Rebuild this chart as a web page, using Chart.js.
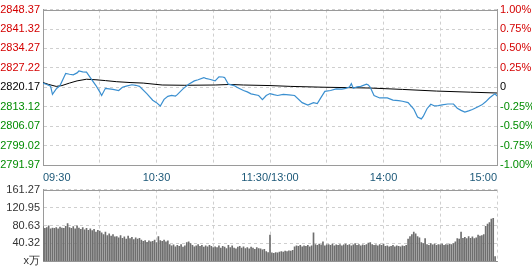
<!DOCTYPE html>
<html>
<head>
<meta charset="utf-8">
<script src="https://cdn.jsdelivr.net/npm/chart.js@4.4.1/dist/chart.umd.min.js"></script>
<style>
    html, body { margin: 0; padding: 0; background: #fff; }
    #wrap { position: relative; width: 532px; height: 271px; overflow: hidden; }
    canvas { position: absolute; left: 0; }
    #priceChart { top: 0; }
    #volChart { top: 180px; }
</style>
</head>
<body>
<div id="wrap">
    <canvas id="priceChart" width="532" height="186"></canvas>
    <canvas id="volChart" width="532" height="91"></canvas>
</div>
<script>
// ==========================================
//  Intraday chart (price / average / volume)
// ==========================================

const prevClose = 2820.17;

// minute index 0..240 (09:30-11:30, 13:00-15:00)
const gridMinutes = [0, 30, 60, 90, 120, 150, 180, 210, 240];
const timeTickMinutes = [0, 60, 120, 180, 240];
const timeTickLabels = ['09:30', '10:30', '11:30/13:00', '14:00', '15:00'];

const priceTicks = [2791.97, 2799.02, 2806.07, 2813.12, 2820.17, 2827.22, 2834.27, 2841.32, 2848.37];
const priceTickLabels = ['2791.97', '2799.02', '2806.07', '2813.12', '2820.17', '2827.22', '2834.27', '2841.32', '2848.37'];
const pctTicks = [-1, -0.75, -0.5, -0.25, 0, 0.25, 0.5, 0.75, 1];
const pctTickLabels = ['-1.00%', '-0.75%', '-0.50%', '-0.25%', '0', '0.25%', '0.50%', '0.75%', '1.00%'];
const volTicks = [0, 40.32, 80.63, 120.95, 161.27];
const volTickLabels = ['x万', '40.32', '80.63', '120.95', '161.27'];

// price line (minute, price)
const priceMinutes = [0, 2, 4, 5, 7, 9, 11, 12, 14, 16, 18, 19, 21, 23, 25, 28, 30, 31, 33, 35,
    37, 40, 42, 44, 47, 49, 51, 55, 58, 60, 62, 64, 66, 68, 70, 71, 74, 77, 80, 82,
    85, 86, 88, 91, 93, 95, 96, 98, 101, 103, 106, 108, 110, 114, 116, 118, 120, 122, 124, 127,
    130, 133, 137, 140, 143, 145, 147, 149, 152, 155, 158, 160, 162, 163, 164, 166, 168, 171, 172, 173,
    175, 178, 182, 185, 188, 190, 193, 196, 198, 200, 201, 203, 205, 207, 209, 211, 214, 217, 219, 221,
    223, 225, 227, 230, 232, 234, 236, 238, 239, 240];
const priceValues = [2821.7, 2821.2, 2820.6, 2817.6, 2819.6, 2820.8, 2823.7, 2825.2, 2824.9, 2824.7, 2825.4, 2826.1, 2825.8, 2825.7, 2823.7, 2820.8, 2818.5, 2817.2, 2819.8, 2819.6,
    2819.4, 2819.0, 2820.2, 2820.6, 2821.1, 2820.9, 2820.5, 2817.8, 2815.5, 2814.6, 2813.4, 2815.8, 2816.9, 2817.2, 2817.0, 2817.5, 2819.6, 2821.3, 2822.5, 2822.9,
    2823.7, 2823.4, 2823.1, 2822.5, 2824.0, 2823.9, 2823.7, 2821.3, 2820.8, 2820.0, 2819.0, 2818.5, 2817.8, 2817.2, 2815.7, 2817.2, 2817.9, 2817.5, 2817.2, 2817.6,
    2817.4, 2817.2, 2814.6, 2813.7, 2814.6, 2814.3, 2816.5, 2818.7, 2819.0, 2819.6, 2819.5, 2819.8, 2820.3, 2821.5, 2819.8, 2820.3, 2820.5, 2821.3, 2821.0, 2820.2,
    2817.2, 2816.3, 2816.3, 2815.5, 2815.3, 2815.1, 2814.6, 2812.3, 2809.4, 2808.7, 2809.6, 2812.4, 2814.0, 2813.4, 2813.5, 2813.8, 2814.1, 2814.1, 2812.6, 2811.8,
    2811.2, 2811.6, 2812.1, 2813.1, 2813.8, 2814.9, 2816.3, 2817.4, 2817.8, 2817.0];

// average price line (minute, price)
const avgMinutes = [0, 3, 7, 10, 14, 18, 23, 28, 33, 39, 46, 53, 63, 75, 91, 99, 106, 120, 131, 148, 173, 190, 208, 226, 240];
const avgValues = [2821.9, 2821.2, 2820.5, 2820.8, 2821.7, 2822.5, 2823.1, 2822.9, 2822.6, 2822.2, 2821.9, 2821.7, 2821.0, 2820.9, 2821.0, 2821.2, 2821.0, 2820.8, 2820.5, 2820.2, 2819.9, 2819.4, 2818.8, 2818.4, 2818.1];

// volume per minute, 241 bars (x万)
const volumes = [
    78, 74, 76, 80, 73, 75, 74, 76, 73, 77, 75, 74, 79, 85,
    76, 74, 78, 73, 80, 75, 72, 76, 71, 74, 70, 73,
    69, 72, 66, 70, 68,
    64, 60, 66, 58, 62, 57, 60, 55,
    56, 53, 58, 52, 55, 50, 57, 51, 54, 49, 53, 50, 52,
    48, 45, 47, 43, 46, 44,
    45, 48, 42,
    56,
    47, 45, 48, 44, 46,
    38, 35, 37, 33, 36, 34, 38, 32, 35, 42, 44, 40, 36, 33, 35, 38, 34, 36, 32, 35, 33, 36, 34, 31,
    33, 31, 35, 30, 34, 32, 29, 36, 31, 35, 30, 28, 32, 34, 30, 33, 29, 31, 28, 32, 30, 27, 31, 29, 28, 26, 27, 22,
    20,
    59,
    19, 18, 20, 19, 21, 22, 21, 23, 22, 24, 23, 25,
    33, 35, 34, 36, 33, 35, 34, 36, 33, 35,
    64,
    38, 36, 39, 37, 44, 35, 37, 38, 36, 39, 35, 37, 36, 38, 35, 37, 39, 36, 38, 35, 37, 40, 36, 38, 35,
    37, 36, 38, 41, 42, 38, 36, 37, 35, 38, 36, 39, 34, 35, 33, 34, 36, 33, 35, 34, 33, 35,
    34, 36,
    50, 56, 60, 66, 62, 56, 53,
    42, 40,
    51,
    38, 36, 40, 37, 39, 36, 38, 37, 39, 36, 38, 37, 39, 38, 40,
    44, 51, 50, 66, 52,
    54, 51, 56, 52, 55, 51, 53,
    59, 57, 58, 60,
    79, 84, 87, 95, 97, 11, 0
];

const RED = '#d40000';
const GREEN = '#008c00';
const GRID = '#cfcfcf';
const FRAME = '#9a9a9a';

Chart.defaults.font.family = '"Liberation Sans", Arial, sans-serif';
Chart.defaults.font.size = 11;

// top edge of the plot frame (axes draw the other three sides)
const frameTop = {
    id: 'frameTop',
    afterDraw(chart) {
        const { ctx, chartArea: a } = chart;
        ctx.save();
        ctx.strokeStyle = FRAME;
        ctx.lineWidth = 1;
        ctx.beginPath();
        ctx.moveTo(a.left, Math.round(a.top) + 0.5);
        ctx.lineTo(a.right, Math.round(a.top) + 0.5);
        ctx.stroke();
        ctx.restore();
    }
};

const fixTicks = values => scale => { scale.ticks = values.map(v => ({ value: v })); };

function timeAxis(showLabels, height) {
    return {
        type: 'linear',
        min: 0,
        max: 240,
        offset: false,
        afterBuildTicks: fixTicks(gridMinutes),
        afterFit: s => { s.height = height; },
        grid: { color: GRID, drawTicks: false, offset: false },
        border: { color: FRAME, dash: [3, 3] },
        ticks: {
            display: showLabels,
            autoSkip: false,
            maxRotation: 0,
            align: 'inner',
            padding: 6,
            color: '#1c5878',
            callback: v => {
                const k = timeTickMinutes.indexOf(v);
                return k >= 0 ? timeTickLabels[k] : '';
            }
        }
    };
}

const priceColor = ctx => {
    const v = ctx.tick.value;
    if (Math.abs(v - prevClose) < 0.001 || v === 0) return '#000';
    return v > (ctx.scale.id === 'y' ? prevClose : 0) ? RED : GREEN;
};

new Chart(document.getElementById('priceChart'), {
    type: 'line',
    data: {
        datasets: [{
            data: priceMinutes.map((m, i) => ({ x: m, y: priceValues[i] })),
            borderColor: '#3a8fd0',
            borderWidth: 1.2,
            pointRadius: 0,
            tension: 0
        }, {
            data: avgMinutes.map((m, i) => ({ x: m, y: avgValues[i] })),
            borderColor: '#000',
            borderWidth: 1,
            pointRadius: 0,
            tension: 0
        }]
    },
    options: {
        responsive: false,
        animation: false,
        layout: { padding: { top: 5 } },
        plugins: { legend: { display: false }, tooltip: { enabled: false } },
        scales: {
            x: timeAxis(true, 21),
            y: {
                position: 'left',
                min: priceTicks[0],
                max: priceTicks[priceTicks.length - 1],
                afterBuildTicks: fixTicks(priceTicks),
                afterFit: s => { s.width = 43; },
                grid: { color: GRID, drawTicks: false },
                border: { color: FRAME, dash: [3, 3] },
                ticks: {
                    padding: 3,
                    color: priceColor,
                    callback: v => priceTickLabels[priceTicks.indexOf(v)]
                }
            },
            y2: {
                position: 'right',
                min: -1,
                max: 1,
                afterBuildTicks: fixTicks(pctTicks),
                afterFit: s => { s.width = 35; },
                grid: { drawOnChartArea: false, drawTicks: false },
                border: { color: FRAME },
                ticks: {
                    padding: 3,
                    color: priceColor,
                    callback: v => pctTickLabels[pctTicks.indexOf(v)]
                }
            }
        }
    },
    plugins: [frameTop]
});

new Chart(document.getElementById('volChart'), {
    type: 'bar',
    data: {
        datasets: [{
            data: volumes.map((v, i) => ({ x: i, y: v })),
            backgroundColor: '#6e6e6e',
            borderWidth: 0,
            barThickness: 1
        }]
    },
    options: {
        responsive: false,
        animation: false,
        layout: { padding: { top: 6, right: 35 } },
        plugins: { legend: { display: false }, tooltip: { enabled: false } },
        scales: {
            x: timeAxis(false, 5),
            y: {
                position: 'left',
                min: 0,
                max: volTicks[volTicks.length - 1],
                afterBuildTicks: fixTicks(volTicks),
                afterFit: s => { s.width = 43; },
                grid: { color: GRID, drawTicks: false },
                border: { color: FRAME, dash: [3, 3] },
                ticks: {
                    padding: 3,
                    color: '#333',
                    callback: v => volTickLabels[volTicks.indexOf(v)]
                }
            }
        }
    },
    plugins: [frameTop]
});
</script>
</body>
</html>
